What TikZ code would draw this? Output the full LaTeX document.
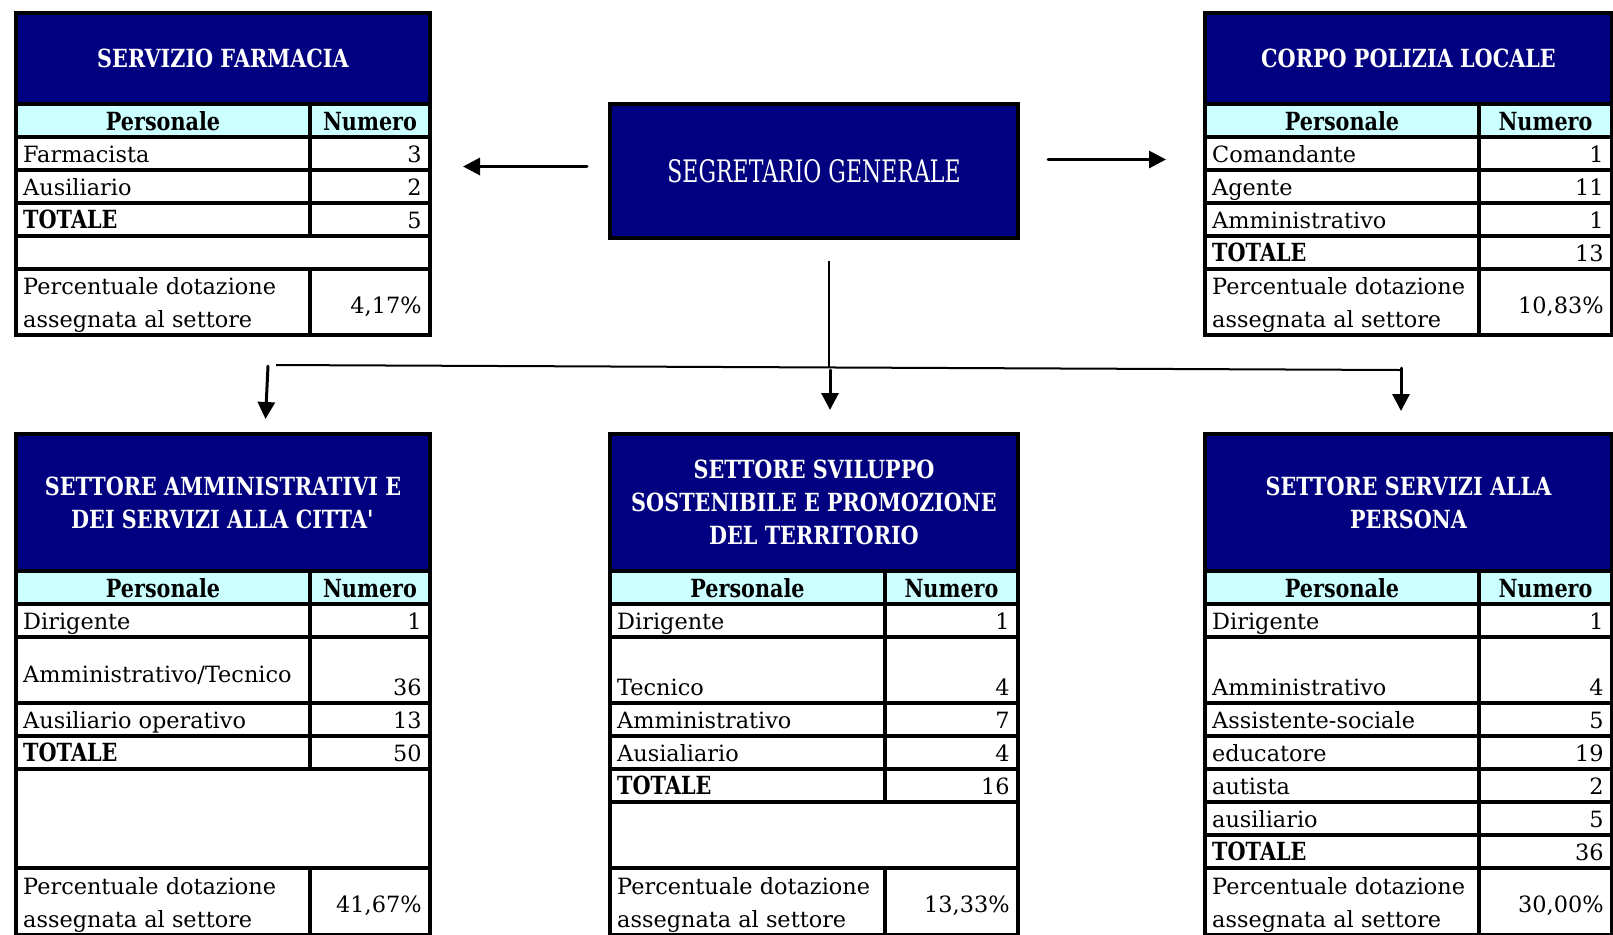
\documentclass[tikz,border=0pt]{standalone}
\usepackage{fontspec}
\setmainfont{DejaVu Serif}[BoldFeatures={FakeStretch=0.83}]
\newfontfamily\segfont{DejaVu Serif}[FakeStretch=0.71]
\usetikzlibrary{arrows.meta}

\definecolor{blunotte}{RGB}{0,0,128}
\definecolor{celeste}{RGB}{204,255,255}

\newcommand{\TOT}{{\fontsize{12.5pt}{15pt}\selectfont\bfseries TOTALE}}

\tikzset{
  titolo/.style={draw=black, line width=1.6pt, fill=blunotte, text=white, inner sep=0pt, outer sep=0pt, align=center, font=\fontsize{12.5pt}{16.5pt}\selectfont\bfseries},
  cella/.style={draw=black, line width=1.6pt},
  intest/.style={cella, fill=celeste},
  voce/.style={anchor=base west, inner sep=0pt, xshift=3.4pt, yshift=4pt, font=\fontsize{11.2pt}{16.5pt}\selectfont},
  valore/.style={anchor=base east, inner sep=0pt, xshift=-4pt, yshift=4pt, font=\fontsize{11.2pt}{16.5pt}\selectfont},
  testa/.style={anchor=base, inner sep=0pt, yshift=3.5pt, font=\fontsize{12.5pt}{15pt}\selectfont\bfseries},
  freccia/.style={line width=1.5pt, line cap=round, -{Triangle[length=8.5pt,width=8.5pt]}},
}

\begin{document}
\begin{tikzpicture}[x=0.5pt, y=-0.5pt]
\useasboundingbox (0,0) rectangle (1613,934);

% segretario generale
\node[titolo, minimum width=204pt, minimum height=67pt, font=\segfont\fontsize{15.5pt}{18pt}\selectfont] (seg) at (814,171) {SEGRETARIO GENERALE};

% servizio farmacia
\node[titolo, minimum width=207pt, minimum height=45.5pt] (farm) at (223,58.5) {SERVIZIO FARMACIA};
\draw[intest] (16,104) rectangle (310,137) (310,104) rectangle (430,137);
\node[testa] at (163,137) {Personale};
\node[testa] at (370,137) {Numero};
\foreach \ya/\yb/\v/\n in {137/170/Farmacista/3, 170/203/Ausiliario/2, 203/236/\TOT/5} {
  \draw[cella] (16,\ya) rectangle (310,\yb) (310,\ya) rectangle (430,\yb);
  \node[voce] at (16,\yb) {\v};
  \node[valore] at (430,\yb) {\n};
}
\draw[cella] (16,236) rectangle (430,269);
\draw[cella] (16,269) rectangle (310,335) (310,269) rectangle (430,335);
\node[voce, yshift=16.5pt] at (16,335) {Percentuale dotazione};
\node[voce] at (16,335) {assegnata al settore};
\node[valore] at (430,321) {4,17\%};

% corpo polizia locale
\node[titolo, minimum width=203.5pt, minimum height=45.5pt] (pol) at (1408.5,58.5) {CORPO POLIZIA LOCALE};
\draw[intest] (1205,104) rectangle (1479,137) (1479,104) rectangle (1612,137);
\node[testa] at (1342,137) {Personale};
\node[testa] at (1545.5,137) {Numero};
\foreach \ya/\yb/\v/\n in {137/170/Comandante/1, 170/203/Agente/11, 203/236/Amministrativo/1, 236/269/\TOT/13} {
  \draw[cella] (1205,\ya) rectangle (1479,\yb) (1479,\ya) rectangle (1612,\yb);
  \node[voce] at (1205,\yb) {\v};
  \node[valore] at (1612,\yb) {\n};
}
\draw[cella] (1205,269) rectangle (1479,335) (1479,269) rectangle (1612,335);
\node[voce, yshift=16.5pt] at (1205,335) {Percentuale dotazione};
\node[voce] at (1205,335) {assegnata al settore};
\node[valore] at (1612,321) {10,83\%};

% settore amministrativi
\node[titolo, minimum width=207pt, minimum height=68.5pt] (amm) at (223,502.5) {SETTORE AMMINISTRATIVI E\\DEI SERVIZI ALLA CITTA\textquotesingle};
\draw[intest] (16,571) rectangle (310,604) (310,571) rectangle (430,604);
\node[testa] at (163,604) {Personale};
\node[testa] at (370,604) {Numero};
\foreach \ya/\yb/\v/\n in {604/637/Dirigente/1, 703/736/Ausiliario operativo/13, 736/769/\TOT/50} {
  \draw[cella] (16,\ya) rectangle (310,\yb) (310,\ya) rectangle (430,\yb);
  \node[voce] at (16,\yb) {\v};
  \node[valore] at (430,\yb) {\n};
}
\draw[cella] (16,637) rectangle (310,703) (310,637) rectangle (430,703);
\node[voce] at (16,690) {Amministrativo/Tecnico};
\node[valore] at (430,703) {36};
\draw[cella] (16,769) rectangle (430,868);
\draw[cella] (16,868) rectangle (310,935) (310,868) rectangle (430,935);
\node[voce, yshift=16.5pt] at (16,935) {Percentuale dotazione};
\node[voce] at (16,935) {assegnata al settore};
\node[valore] at (430,920) {41,67\%};

% settore sviluppo
\node[titolo, minimum width=204pt, minimum height=68.5pt] (svil) at (814,502.5) {SETTORE SVILUPPO\\SOSTENIBILE E PROMOZIONE\\DEL TERRITORIO};
\draw[intest] (610,571) rectangle (885,604) (885,571) rectangle (1018,604);
\node[testa] at (747.5,604) {Personale};
\node[testa] at (951.5,604) {Numero};
\foreach \ya/\yb/\v/\n in {604/637/Dirigente/1, 637/703/Tecnico/4, 703/736/Amministrativo/7, 736/769/Ausialiario/4, 769/802/\TOT/16} {
  \draw[cella] (610,\ya) rectangle (885,\yb) (885,\ya) rectangle (1018,\yb);
  \node[voce] at (610,\yb) {\v};
  \node[valore] at (1018,\yb) {\n};
}
\draw[cella] (610,802) rectangle (1018,868);
\draw[cella] (610,868) rectangle (885,935) (885,868) rectangle (1018,935);
\node[voce, yshift=16.5pt] at (610,935) {Percentuale dotazione};
\node[voce] at (610,935) {assegnata al settore};
\node[valore] at (1018,920) {13,33\%};

% settore servizi alla persona
\node[titolo, minimum width=203.5pt, minimum height=68.5pt] (pers) at (1408.5,502.5) {SETTORE SERVIZI ALLA\\PERSONA};
\draw[intest] (1205,571) rectangle (1479,604) (1479,571) rectangle (1612,604);
\node[testa] at (1342,604) {Personale};
\node[testa] at (1545.5,604) {Numero};
\foreach \ya/\yb/\v/\n in {604/637/Dirigente/1, 637/703/Amministrativo/4, 703/736/Assistente-sociale/5, 736/769/educatore/19, 769/802/autista/2, 802/835/ausiliario/5, 835/868/\TOT/36} {
  \draw[cella] (1205,\ya) rectangle (1479,\yb) (1479,\ya) rectangle (1612,\yb);
  \node[voce] at (1205,\yb) {\v};
  \node[valore] at (1612,\yb) {\n};
}
\draw[cella] (1205,868) rectangle (1479,935) (1479,868) rectangle (1612,935);
\node[voce, yshift=16.5pt] at (1205,935) {Percentuale dotazione};
\node[voce] at (1205,935) {assegnata al settore};
\node[valore] at (1612,920) {30,00\%};

% collegamenti
\coordinate (pf) at (463,166.5);
\coordinate (pp) at (1166,159.5);
\coordinate (nodo) at (829,368);
\coordinate (bs) at (276,365);
\coordinate (bd) at (1401,370);
\coordinate (ga) at (268,366);
\coordinate (gb) at (830,370);
\coordinate (gc) at (1401,368);
\draw[freccia] ([xshift=-11.5pt,yshift=2.25pt]seg.west) -- (pf);
\draw[freccia] ([xshift=15pt,yshift=5.75pt]seg.east) -- (pp);
\draw[line width=0.8pt] ([xshift=7.5pt,yshift=-11.5pt]seg.south) -- (nodo);
\draw[line width=1pt] (bs) -- (bd);
\draw[freccia] (ga) -- ([xshift=21.25pt,yshift=7.5pt]amm.north);
\draw[freccia] (gb) -- ([xshift=8pt,yshift=12pt]svil.north);
\draw[freccia] (gc) -- ([xshift=-3.75pt,yshift=11.5pt]pers.north);
\end{tikzpicture}
\end{document}
